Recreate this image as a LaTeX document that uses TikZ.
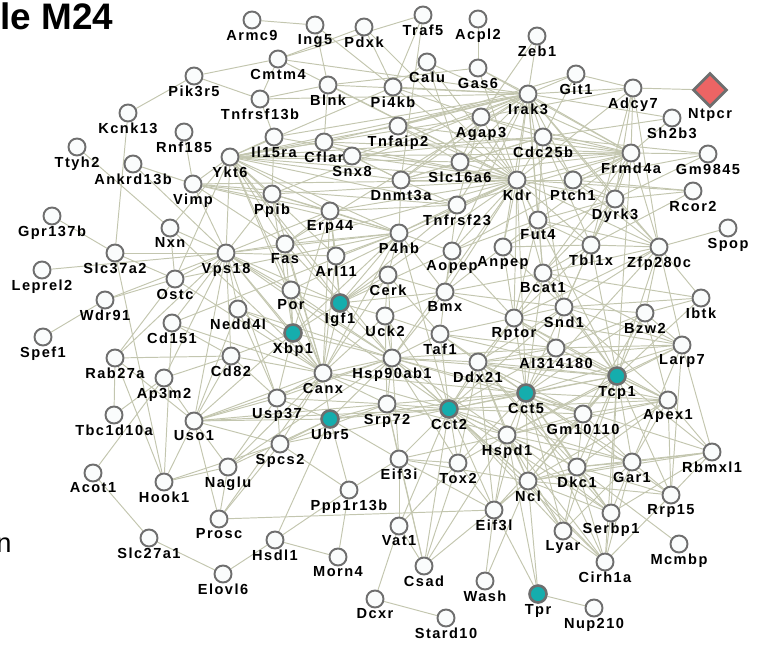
\documentclass[tikz,border=0pt]{standalone}
\usepackage{fontspec}
\setmainfont{Liberation Sans}
\newfontfamily\genefont{Liberation Sans}[LetterSpace=10]
\usepackage{tikz}
\usetikzlibrary{shapes.geometric, backgrounds}
\usepackage{xcolor}
\definecolor{edgegray}{HTML}{C3C6AF}
\definecolor{ringgray}{HTML}{6E6E6E}
\definecolor{nodewhite}{HTML}{FAFCFC}
\definecolor{hitteal}{HTML}{15ADAD}
\definecolor{ntpcrred}{HTML}{EC6464}

\begin{document}
\begin{tikzpicture}[x=0.02cm, y=-0.02cm,
    genelabel/.style={font=\genefont\bfseries\fontsize{8.3}{9}\selectfont, inner sep=0pt},
    gene/.style={circle, draw=ringgray, fill=nodewhite, line width=1.1pt, minimum size=0.34cm,
      inner sep=0pt, label distance=0.05cm, label={[genelabel]below:#1}},
    hit/.style={gene=#1, fill=hitteal, line width=1.5pt},
    link/.style={draw=edgegray, line width=0.55pt}]
  \useasboundingbox (0,0) rectangle (757,646);

  \node[anchor=base west, inner sep=0pt, font=\bfseries\fontsize{21}{21}\selectfont] (title) at (0,29) {le M24};
  \node[anchor=base west, inner sep=0pt, font=\fontsize{15.5}{15.5}\selectfont] (cut) at (-4,552) {n};

  % genes
  \node[gene=Armc9] (armc9) at (252,20) {};
  \node[gene=Ing5] (ing5) at (315,25) {};
  \node[gene=Pdxk] (pdxk) at (364,27) {};
  \node[gene=Traf5] (traf5) at (423,15) {};
  \node[gene=Acpl2] (acpl2) at (478,19) {};
  \node[gene=Zeb1] (zeb1) at (537,36) {};
  \node[gene=Cmtm4] (cmtm4) at (278,59) {};
  \node[gene=Calu] (calu) at (427,62) {};
  \node[gene=Gas6] (gas6) at (478,68) {};
  \node[gene=Git1] (git1) at (576,74) {};
  \node[gene=Pik3r5] (pik3r5) at (194,76) {};
  \node[gene=Blnk] (blnk) at (328,85) {};
  \node[gene=Pi4kb] (pi4kb) at (393,87) {};
  \node[gene=Irak3] (irak3) at (528,94) {};
  \node[gene=Adcy7] (adcy7) at (633,88) {};
  \node[diamond, draw=ringgray, fill=ntpcrred, line width=1.6pt, minimum size=0.68cm, inner sep=0pt,
    label distance=0.02cm, label={[genelabel]below:Ntpcr}] (ntpcr) at (710,90) {};
  \node[gene=Sh2b3] (sh2b3) at (672,118) {};
  \node[gene=Tnfrsf13b] (tnfrsf13b) at (260,99) {};
  \node[gene=Kcnk13] (kcnk13) at (128,113) {};
  \node[gene=Rnf185] (rnf185) at (184,132) {};
  \node[gene=Agap3] (agap3) at (481,117) {};
  \node[gene=Tnfaip2] (tnfaip2) at (398,126) {};
  \node[gene=Cdc25b] (cdc25b) at (543,137) {};
  \node[gene=Il15ra] (il15ra) at (274,137) {};
  \node[gene=Cflar] (cflar) at (324,142) {};
  \node[gene=Frmd4a] (frmd4a) at (631,153) {};
  \node[gene=Gm9845] (gm9845) at (708,154) {};
  \node[gene=Ttyh2] (ttyh2) at (77,147) {};
  \node[gene=Ankrd13b] (ankrd13b) at (133,164) {};
  \node[gene=Ykt6] (ykt6) at (230,157) {};
  \node[gene=Snx8] (snx8) at (352,156) {};
  \node[gene=Slc16a6] (slc16a6) at (460,162) {};
  \node[gene=Dnmt3a] (dnmt3a) at (401,180) {};
  \node[gene=Kdr] (kdr) at (517,180) {};
  \node[gene=Ptch1] (ptch1) at (573,180) {};
  \node[gene=Vimp] (vimp) at (193,184) {};
  \node[gene=Dyrk3] (dyrk3) at (615,199) {};
  \node[gene=Rcor2] (rcor2) at (693,191) {};
  \node[gene=Ppib] (ppib) at (272,194) {};
  \node[gene=Tnfrsf23] (tnfrsf23) at (457,205) {};
  \node[gene=Erp44] (erp44) at (330,211) {};
  \node[gene=Fut4] (fut4) at (538,220) {};
  \node[gene=Gpr137b] (gpr137b) at (52,216) {};
  \node[gene=Nxn] (nxn) at (170,228) {};
  \node[gene=Spop] (spop) at (728,228) {};
  \node[gene=Fas] (fas) at (285,244) {};
  \node[gene=P4hb] (p4hb) at (399,233) {};
  \node[gene=Aopep] (aopep) at (452,251) {};
  \node[gene=Anpep] (anpep) at (503,247) {};
  \node[gene=Tbl1x] (tbl1x) at (591,245) {};
  \node[gene=Zfp280c] (zfp280c) at (659,247) {};
  \node[gene=Vps18] (vps18) at (226,253) {};
  \node[gene=Slc37a2] (slc37a2) at (115,253) {};
  \node[gene=Ostc] (ostc) at (175,279) {};
  \node[gene=Leprel2] (leprel2) at (42,270) {};
  \node[gene=Arl11] (arl11) at (336,256) {};
  \node[gene=Bcat1] (bcat1) at (543,273) {};
  \node[gene=Cerk] (cerk) at (388,275) {};
  \node[gene=Bmx] (bmx) at (445,292) {};
  \node[gene=Por] (por) at (291,290) {};
  \node[hit=Igf1] (igf1) at (340,303) {};
  \node[gene=Wdr91] (wdr91) at (105,300) {};
  \node[gene=Nedd4l] (nedd4l) at (238,309) {};
  \node[gene=Snd1] (snd1) at (564,307) {};
  \node[gene=Bzw2] (bzw2) at (645,313) {};
  \node[gene=Ibtk] (ibtk) at (701,298) {};
  \node[gene=Rptor] (rptor) at (514,318) {};
  \node[gene=Uck2] (uck2) at (385,316) {};
  \node[gene=Cd151] (cd151) at (172,323) {};
  \node[hit=Xbp1] (xbp1) at (293,333) {};
  \node[gene=Spef1] (spef1) at (43,337) {};
  \node[gene=Taf1] (taf1) at (440,334) {};
  \node[gene=AI314180] (ai314180) at (556,348) {};
  \node[gene=Larp7] (larp7) at (682,345) {};
  \node[hit=Tcp1] (tcp1) at (617,376) {};
  \node[gene=Rab27a] (rab27a) at (115,358) {};
  \node[gene=Cd82] (cd82) at (231,356) {};
  \node[gene=Hsp90ab1] (hsp90ab1) at (392,358) {};
  \node[gene=Ddx21] (ddx21) at (478,362) {};
  \node[gene=Ap3m2] (ap3m2) at (164,378) {};
  \node[gene=Canx] (canx) at (323,373) {};
  \node[hit=Cct5] (cct5) at (526,393) {};
  \node[gene=Apex1] (apex1) at (668,400) {};
  \node[gene=Usp37] (usp37) at (277,398) {};
  \node[gene=Srp72] (srp72) at (387,404) {};
  \node[hit=Cct2] (cct2) at (449,409) {};
  \node[hit=Ubr5] (ubr5) at (330,419) {};
  \node[gene=Gm10110] (gm10110) at (583,414) {};
  \node[gene=Uso1] (uso1) at (194,421) {};
  \node[gene=Tbc1d10a] (tbc1d10a) at (114,415) {};
  \node[gene=Rbmxl1] (rbmxl1) at (712,452) {};
  \node[gene=Spcs2] (spcs2) at (280,444) {};
  \node[gene=Hspd1] (hspd1) at (507,435) {};
  \node[gene=Eif3i] (eif3i) at (399,459) {};
  \node[gene=Tox2] (tox2) at (458,463) {};
  \node[gene=Gar1] (gar1) at (632,462) {};
  \node[gene=Dkc1] (dkc1) at (577,467) {};
  \node[gene=Naglu] (naglu) at (228,467) {};
  \node[gene=Acot1] (acot1) at (93,473) {};
  \node[gene=Hook1] (hook1) at (164,482) {};
  \node[gene=Ncl] (ncl) at (528,481) {};
  \node[gene=Rrp15] (rrp15) at (671,495) {};
  \node[gene=Ppp1r13b] (ppp1r13b) at (349,490) {};
  \node[gene=Eif3l] (eif3l) at (494,510) {};
  \node[gene=Serbp1] (serbp1) at (611,513) {};
  \node[gene=Vat1] (vat1) at (399,526) {};
  \node[gene=Prosc] (prosc) at (219,519) {};
  \node[gene=Lyar] (lyar) at (563,531) {};
  \node[gene=Hsdl1] (hsdl1) at (275,540) {};
  \node[gene=Mcmbp] (mcmbp) at (679,544) {};
  \node[gene=Morn4] (morn4) at (338,557) {};
  \node[gene=Slc27a1] (slc27a1) at (149,538) {};
  \node[gene=Csad] (csad) at (424,566) {};
  \node[gene=Cirh1a] (cirh1a) at (605,562) {};
  \node[gene=Elovl6] (elovl6) at (223,574) {};
  \node[gene=Wash] (wash) at (485,581) {};
  \node[gene=Dcxr] (dcxr) at (375,599) {};
  \node[hit=Tpr] (tpr) at (538,594) {};
  \node[gene=Nup210] (nup210) at (594,608) {};
  \node[gene=Stard10] (stard10) at (446,618) {};

  % interactions
  \begin{scope}[on background layer]
    \draw[link] (armc9) edge (ing5);
    \draw[link] (ing5) edge (pi4kb) edge (blnk);
    \draw[link] (pdxk) edge (cmtm4) edge (pi4kb) edge (kdr);
    \draw[link] (traf5) edge (cmtm4) edge (pi4kb) edge (dnmt3a);
    \draw[link] (acpl2) edge (gas6);
    \draw[link] (zeb1) edge (agap3) edge (irak3);
    \draw[link] (git1) edge (irak3) edge (cdc25b) edge (tnfaip2) edge (adcy7);
    \draw[link] (adcy7) edge (ntpcr) edge (irak3) edge (frmd4a) edge (dyrk3) edge (tbl1x) edge (kdr) edge (zfp280c) edge (agap3);
    \draw[link] (sh2b3) edge (irak3) edge (frmd4a) edge (cdc25b);
    \draw[link] (gm9845) edge (frmd4a) edge (cdc25b) edge (dyrk3) edge (ptch1);
    \draw[link] (rcor2) edge (dyrk3) edge (tbl1x) edge (kdr) edge (ptch1);
    \draw[link] (spop) edge (zfp280c);
    \draw[link] (ibtk) edge (zfp280c) edge (bzw2) edge (snd1) edge (tcp1) edge (bcat1);
    \draw[link] (larp7) edge (tcp1) edge (rbmxl1) edge (gar1) edge (ai314180) edge (rptor) edge (rrp15) edge (cct5) edge (bzw2) edge (zfp280c) edge (ddx21) edge (hspd1) edge (snd1) edge (bcat1);
    \draw[link] (rbmxl1) edge (apex1) edge (gar1) edge (dkc1) edge (tcp1) edge (rrp15) edge (ncl) edge (cct5) edge (serbp1);
    \draw[link] (mcmbp) edge (dkc1);
    \draw[link] (cirh1a) edge (serbp1) edge (lyar) edge (gar1) edge (ncl) edge (rrp15) edge (hspd1) edge (cct2) edge (dkc1) edge (tcp1) edge (cct5);
    \draw[link] (tpr) edge (nup210) edge (ncl) edge (eif3l) edge (hspd1);
    \draw[link] (stard10) edge (dcxr);
    \draw[link] (dcxr) edge (vat1);
    \draw[link] (wash) edge (eif3l) edge (ncl);
    \draw[link] (csad) edge (vat1) edge (eif3i) edge (tox2) edge (hspd1) edge (cct2) edge (srp72) edge (ncl);
    \draw[link] (morn4) edge (ppp1r13b) edge (hsdl1);
    \draw[link] (hsdl1) edge (elovl6) edge (ubr5) edge (ppp1r13b);
    \draw[link] (elovl6) edge (slc27a1);
    \draw[link] (slc27a1) edge (acot1);
    \draw[link] (acot1) edge (ap3m2);
    \draw[link] (tbc1d10a) edge (rab27a) edge (ap3m2);
    \draw[link] (hook1) edge (uso1) edge (naglu) edge (rab27a) edge (slc37a2) edge (spcs2);
    \draw[link] (prosc) edge (uso1) edge (naglu) edge (eif3l) edge (spcs2) edge (canx);
    \draw[link] (naglu) edge (uso1) edge (usp37) edge (canx) edge (hsp90ab1) edge (ubr5);
    \draw[link] (spef1) edge (wdr91);
    \draw[link] (wdr91) edge (vps18) edge (ostc);
    \draw[link] (leprel2) edge (vps18);
    \draw[link] (gpr137b) edge (slc37a2);
    \draw[link] (slc37a2) edge (vps18) edge (kcnk13) edge (ostc);
    \draw[link] (kcnk13) edge (pik3r5);
    \draw[link] (pik3r5) edge (cmtm4) edge (tnfrsf13b);
    \draw[link] (ttyh2) edge (nxn);
    \draw[link] (ankrd13b) edge (vimp) edge (vps18);
    \draw[link] (rnf185) edge (vimp);
    \draw[link] (vimp) edge (ykt6) edge (ppib) edge (kdr) edge (erp44) edge (p4hb) edge (vps18) edge (fas) edge (tnfrsf23);
    \draw[link] (nxn) edge (vps18) edge (ykt6) edge (ostc) edge (canx);
    \draw[link] (cd151) edge (vps18) edge (cd82) edge (canx) edge (p4hb) edge (hook1);
    \draw[link] (rab27a) edge (cd82) edge (vps18) edge (uso1) edge (ostc);
    \draw[link] (ap3m2) edge (uso1) edge (cd82) edge (vps18);
    \draw[link] (ostc) edge (vps18) edge (canx) edge (p4hb) edge (ykt6);
    \draw[link] (cmtm4) edge (kdr) edge (irak3) edge (tnfrsf13b);
    \draw[link] (tnfrsf13b) edge (blnk) edge (il15ra) edge (irak3);
    \draw[link] (il15ra) edge (ykt6) edge (kdr) edge (irak3) edge (ppib);
    \draw[link] (blnk) edge (gas6) edge (kdr) edge (irak3) edge (cflar);
    \draw[link] (pi4kb) edge (calu) edge (kdr) edge (irak3) edge (agap3) edge (ykt6);
    \draw[link] (calu) edge (kdr) edge (frmd4a) edge (slc16a6);
    \draw[link] (gas6) edge (irak3) edge (kdr) edge (frmd4a);
    \draw[link] (tnfaip2) edge (kdr) edge (irak3) edge (ykt6) edge (frmd4a) edge (slc16a6);
    \draw[link] (cflar) edge (kdr) edge (irak3) edge (ykt6) edge (frmd4a) edge (dnmt3a);
    \draw[link] (snx8) edge (kdr) edge (irak3) edge (ykt6) edge (cdc25b);
    \draw[link] (kdr) edge (irak3) edge (agap3) edge (cdc25b) edge (slc16a6) edge (dnmt3a) edge (tnfrsf23) edge (fut4) edge (ptch1) edge (frmd4a) edge (dyrk3) edge (ykt6) edge (fas) edge (bmx) edge (aopep) edge (zfp280c) edge (tbl1x) edge (igf1) edge (por) edge (bcat1) edge (anpep) edge (p4hb) edge (erp44) edge (ppib) edge (cct5) edge (hsp90ab1) edge (tcp1) edge (rptor);
    \draw[link] (irak3) edge (agap3) edge (cdc25b) edge (frmd4a) edge (slc16a6) edge (ptch1) edge (fut4) edge (dnmt3a) edge (ykt6) edge (tnfrsf23) edge (fas) edge (dyrk3) edge (anpep) edge (zfp280c) edge (aopep) edge (ppib) edge (bcat1) edge (snd1);
    \draw[link] (frmd4a) edge (cdc25b) edge (ptch1) edge (agap3) edge (dyrk3) edge (tbl1x) edge (zfp280c) edge (fut4) edge (slc16a6) edge (tnfrsf23) edge (dnmt3a) edge (aopep) edge (bcat1) edge (ykt6) edge (tcp1) edge (snd1);
    \draw[link] (cdc25b) edge (agap3) edge (ptch1) edge (fut4) edge (slc16a6) edge (dnmt3a) edge (tbl1x) edge (ykt6);
    \draw[link] (agap3) edge (slc16a6) edge (dnmt3a) edge (ykt6) edge (tnfrsf23);
    \draw[link] (zfp280c) edge (tbl1x) edge (dyrk3) edge (ptch1) edge (fut4) edge (bcat1) edge (snd1) edge (bzw2) edge (tcp1) edge (rptor) edge (cct5);
    \draw[link] (dyrk3) edge (tbl1x) edge (ptch1) edge (fut4) edge (bcat1) edge (anpep);
    \draw[link] (tbl1x) edge (fut4) edge (bcat1) edge (rptor) edge (snd1) edge (anpep);
    \draw[link] (ykt6) edge (vps18) edge (ppib) edge (erp44) edge (p4hb) edge (fas) edge (arl11) edge (por) edge (dnmt3a) edge (canx) edge (tnfrsf23) edge (slc16a6) edge (igf1) edge (hsp90ab1);
    \draw[link] (vps18) edge (ppib) edge (erp44) edge (fas) edge (por) edge (arl11) edge (nedd4l) edge (cd82) edge (canx) edge (xbp1) edge (igf1) edge (usp37) edge (uso1) edge (p4hb) edge (hsp90ab1) edge (cct2);
    \draw[link] (canx) edge (nedd4l) edge (cd82) edge (xbp1) edge (igf1) edge (por) edge (fas) edge (p4hb) edge (erp44) edge (hsp90ab1) edge (srp72) edge (usp37) edge (uso1) edge (ubr5) edge (spcs2) edge (cct2) edge (ppib) edge (cerk) edge (uck2) edge (arl11) edge (cct5);
    \draw[link] (p4hb) edge (erp44) edge (ppib) edge (fas) edge (arl11) edge (tnfrsf23) edge (dnmt3a) edge (aopep) edge (cerk) edge (igf1) edge (xbp1) edge (bmx) edge (cct2);
    \draw[link] (erp44) edge (ppib) edge (fas) edge (arl11) edge (xbp1) edge (igf1) edge (tnfrsf23);
    \draw[link] (igf1) edge (por) edge (arl11) edge (xbp1) edge (cerk) edge (uck2) edge (bmx) edge (fas) edge (tnfrsf23) edge (aopep) edge (hsp90ab1);
    \draw[link] (xbp1) edge (nedd4l) edge (cd82) edge (por) edge (fas) edge (ppib) edge (usp37) edge (uso1) edge (hsp90ab1);
    \draw[link] (uso1) edge (usp37) edge (cd82) edge (nedd4l) edge (spcs2) edge (ubr5) edge (cct2) edge (srp72);
    \draw[link] (bmx) edge (aopep) edge (anpep) edge (rptor) edge (taf1) edge (uck2) edge (cerk) edge (tnfrsf23) edge (bcat1) edge (snd1) edge (hsp90ab1);
    \draw[link] (rptor) edge (snd1) edge (bcat1) edge (ai314180) edge (anpep) edge (taf1) edge (fut4) edge (aopep);
    \draw[link] (snd1) edge (bcat1) edge (ai314180) edge (anpep);
    \draw[link] (fut4) edge (anpep) edge (bcat1) edge (aopep);
    \draw[link] (dnmt3a) edge (slc16a6) edge (tnfrsf23) edge (snx8);
    \draw[link] (hsp90ab1) edge (cct2) edge (cct5) edge (tcp1) edge (hspd1) edge (srp72) edge (taf1) edge (uck2) edge (ddx21) edge (ncl) edge (eif3i) edge (tox2) edge (ai314180) edge (gm10110) edge (cerk) edge (por) edge (ubr5) edge (usp37) edge (nedd4l) edge (uso1);
    \draw[link] (cct2) edge (cct5) edge (tcp1) edge (hspd1) edge (ncl) edge (gar1) edge (dkc1) edge (ddx21) edge (eif3i) edge (tox2) edge (eif3l) edge (srp72) edge (gm10110) edge (ai314180) edge (taf1) edge (lyar) edge (serbp1) edge (ubr5) edge (vat1) edge (apex1) edge (rptor) edge (snd1) edge (uck2) edge (spcs2);
    \draw[link] (cct5) edge (tcp1) edge (hspd1) edge (ncl) edge (gar1) edge (dkc1) edge (ddx21) edge (ai314180) edge (gm10110) edge (apex1) edge (rptor) edge (snd1) edge (bzw2) edge (serbp1) edge (lyar) edge (rrp15) edge (taf1) edge (eif3l) edge (tox2) edge (bcat1) edge (srp72);
    \draw[link] (tcp1) edge (hspd1) edge (ncl) edge (gar1) edge (dkc1) edge (apex1) edge (bzw2) edge (ai314180) edge (gm10110) edge (ddx21) edge (rptor) edge (snd1) edge (rrp15) edge (serbp1) edge (tbl1x) edge (bcat1) edge (eif3l) edge (lyar) edge (taf1);
    \draw[link] (hspd1) edge (ncl) edge (gar1) edge (dkc1) edge (ddx21) edge (eif3i) edge (tox2) edge (eif3l) edge (lyar) edge (serbp1) edge (gm10110) edge (srp72);
    \draw[link] (ncl) edge (gar1) edge (dkc1) edge (lyar) edge (serbp1) edge (rrp15) edge (ddx21) edge (eif3l) edge (eif3i) edge (gm10110) edge (apex1);
    \draw[link] (gar1) edge (dkc1) edge (rrp15) edge (serbp1) edge (lyar) edge (apex1) edge (gm10110);
    \draw[link] (dkc1) edge (rrp15) edge (serbp1) edge (lyar) edge (gm10110) edge (apex1) edge (ddx21);
    \draw[link] (ddx21) edge (gm10110) edge (ai314180) edge (rptor) edge (taf1) edge (snd1) edge (tox2) edge (eif3l) edge (serbp1);
    \draw[link] (apex1) edge (gm10110) edge (bzw2) edge (rrp15) edge (ai314180) edge (ddx21) edge (hspd1) edge (snd1) edge (rptor);
    \draw[link] (bzw2) edge (snd1) edge (ai314180) edge (gm10110);
    \draw[link] (ubr5) edge (srp72) edge (usp37) edge (spcs2) edge (ppp1r13b) edge (eif3i) edge (cct5);
    \draw[link] (eif3i) edge (tox2) edge (eif3l) edge (srp72) edge (vat1) edge (ppp1r13b);
    \draw[link] (tox2) edge (eif3l) edge (vat1);
    \draw[link] (spcs2) edge (usp37) edge (ppp1r13b) edge (srp72);
    \draw[link] (usp37) edge (cd82) edge (nedd4l) edge (srp72);
    \draw[link] (taf1) edge (uck2) edge (cerk) edge (ai314180);
    \draw[link] (uck2) edge (cerk) edge (srp72);
  \end{scope}
\end{tikzpicture}
\end{document}
